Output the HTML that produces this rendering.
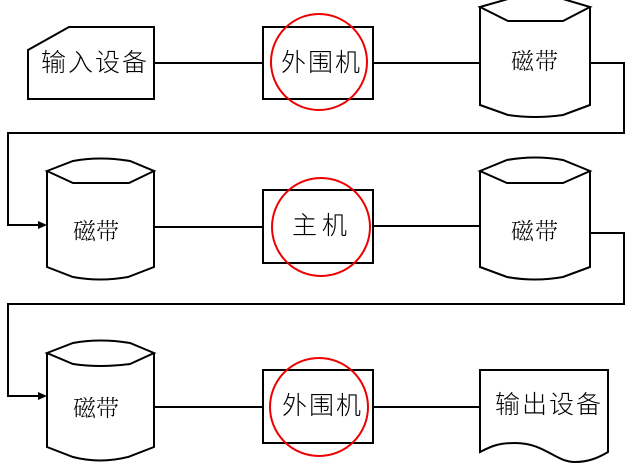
<!DOCTYPE html>
<html><head><meta charset="utf-8"><style>
html,body{margin:0;padding:0;background:#fff;}
svg{display:block;}
.s{font-family:"Liberation Sans","Noto Sans CJK SC",sans-serif;font-size:25px;font-weight:300;fill:#000;}
.r{font-family:"Liberation Serif","Noto Serif CJK SC",serif;font-size:23px;font-weight:300;fill:#000;}
</style></head><body>
<svg width="630" height="470" viewBox="0 0 630 470" xmlns="http://www.w3.org/2000/svg">
<g fill="none" stroke="#000" stroke-width="2" stroke-linejoin="miter">
<!-- row 1 -->
<path d="M28,50 L69,27 L154,27 L154,99 L28,99 Z"/>
<line x1="154" y1="63" x2="263" y2="63"/>
<rect x="263" y="27" width="110" height="72"/>
<line x1="373" y1="63" x2="480" y2="63"/>
<path d="M480,7 L508,-1 L563,-1 L590,7 L563,21 L508,21 Z"/>
<path d="M480,7 L480,105 L508,115 Q535,119 563,115 L590,105 L590,7"/>
<polyline points="590,63 624,63 624,133 8,133 8,225 40,225"/>
<!-- row 2 -->
<path d="M47,171 L73,161 Q100,156 130,161 L154,171 L129,183 L73,183 Z"/>
<path d="M47,171 L47,267 L73,277 Q100,282 128,277 L154,267 L154,171"/>
<line x1="154" y1="227" x2="263" y2="227"/>
<rect x="263" y="190" width="110" height="73"/>
<line x1="373" y1="226" x2="480" y2="226"/>
<path d="M480,171 L507,160 Q535,155 563,160 L590,171 L563,183 L507,183 Z"/>
<path d="M480,171 L480,267 L507,277 Q535,282 563,277 L590,267 L590,171"/>
<polyline points="590,233 624,233 624,304 8,304 8,396 40,396"/>
<!-- row 3 -->
<path d="M47,353 L73,343 Q100,338 130,343 L154,353 L130,364 Q100,368 73,364 Z"/>
<path d="M47,353 L47,447 L73,457 Q100,464 128,457 L154,447 L154,353"/>
<line x1="154" y1="407" x2="263" y2="407"/>
<rect x="263" y="370" width="110" height="73"/>
<line x1="373" y1="407" x2="480" y2="407"/>
<path d="M480,452 L480,370 L608,370 L608,452 C598,458 588,462 575,462 C555,462 545,443 515,443 C497,443 490,447 480,452 Z"/>
</g>
<!-- arrowheads -->
<polygon points="47,225 38,221 38,229" fill="#000"/>
<polygon points="47,396 38,392 38,400" fill="#000"/>
<!-- red circles -->
<g fill="none" stroke="#ee0000" stroke-width="2">
<circle cx="319" cy="62" r="48"/>
<circle cx="321" cy="227" r="49"/>
<circle cx="319" cy="407" r="49"/>
</g>
<!-- text -->
<text class="s" x="41 68 95 122" y="71">输入设备</text>
<text class="s" x="281 308 335" y="71">外围机</text>
<text class="r" x="511 535" y="69">磁带</text>
<text class="r" x="73 96" y="239">磁带</text>
<text class="s" x="292 322" y="234">主机</text>
<text class="r" x="511 535" y="239">磁带</text>
<text class="r" x="73 96" y="416">磁带</text>
<text class="s" x="282 309 336" y="414">外围机</text>
<text class="s" x="495 522 549 576" y="413">输出设备</text>
</svg>
</body></html>
